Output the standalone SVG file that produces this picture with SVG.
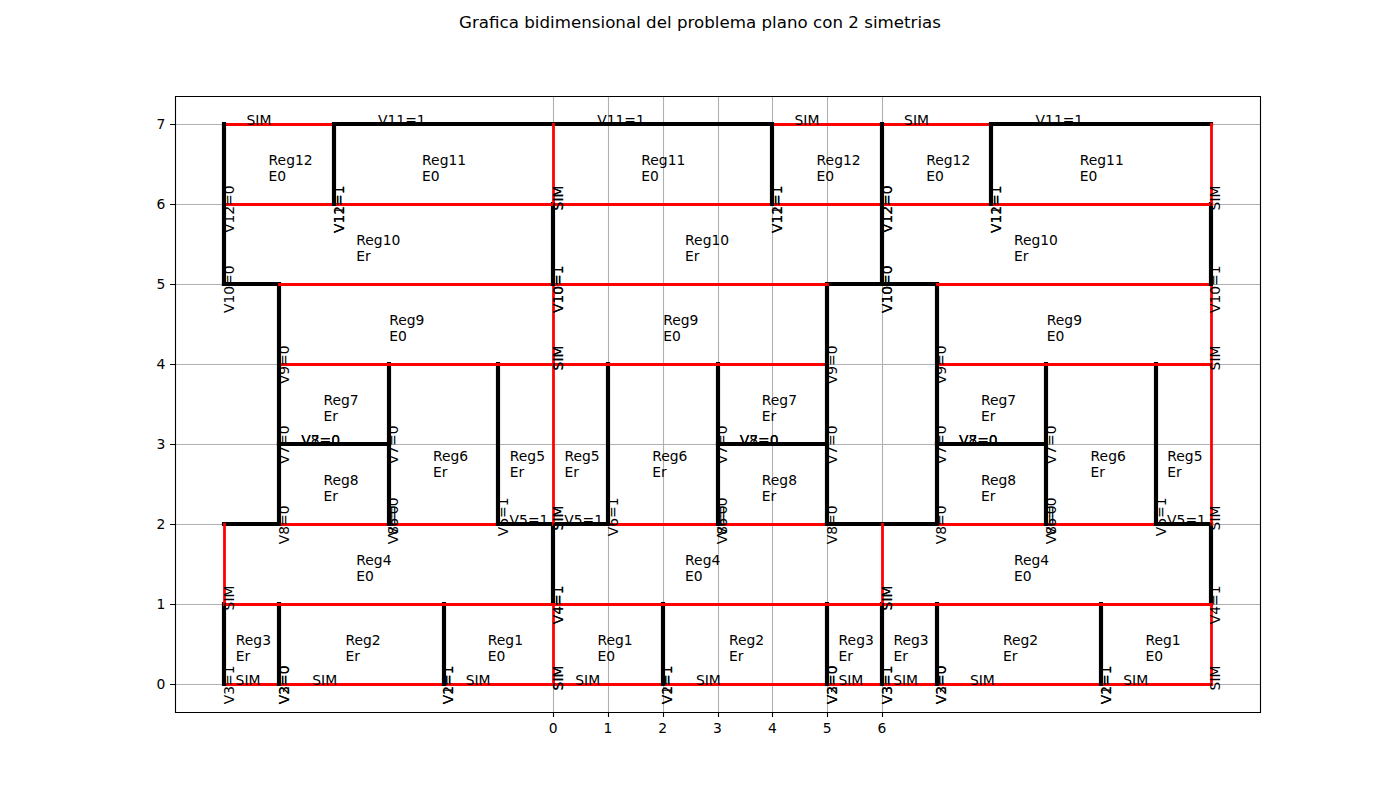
<svg xmlns="http://www.w3.org/2000/svg" width="1400" height="800" viewBox="0 0 1400 800">
<style>
text{font-family:"DejaVu Sans",sans-serif;font-size:13.89px;fill:#000}
.t{font-size:16.67px;text-anchor:middle}
.m{text-anchor:middle}
.e{text-anchor:end}
.l{text-anchor:end}
.g{stroke:#b0b0b0;stroke-width:1.11;fill:none}
.k{stroke:#000;stroke-width:1.11;fill:none}
.b{stroke:#000;stroke-width:4.17;fill:none;stroke-linecap:square;stroke-linejoin:miter}
.r{stroke:#f00;stroke-width:2.78;fill:none;stroke-linecap:square}
</style>
<rect width="1400" height="800" fill="#fff"/>
<text class="t" x="700" y="28" textLength="482" lengthAdjust="spacing">Grafica bidimensional del problema plano con 2 simetrias</text>
<g id="grid">
<path class="g" d="M553.5 96V712M608.5 96V712M663.5 96V712M718.5 96V712M772.5 96V712M827.5 96V712M882.5 96V712"/>
<path class="g" d="M175 124.5H1260M175 204.5H1260M175 284.5H1260M175 364.5H1260M175 444.5H1260M175 524.5H1260M175 604.5H1260M175 684.5H1260"/>
</g>
<g id="connectors">
<!-- regions 1-3 -->
<path class="r" d="M224.5 684.5H1211.5"/>
<path class="r" d="M553.5 684.5V604.5M1211.5 684.5V604.5"/>
<path class="b" d="M224 684V604M279 684V604M444 684V604M663 684V604M827 684V604M882 684V604M937 684V604M1101 684V604"/>
<!-- region 4 -->
<path class="b" d="M224 524H279M827 524H937M498 524H608M1156 524H1211"/>
<path class="b" d="M553 604V524M1211 604V524"/>
<path class="r" d="M224.5 604.5H1211.5M224.5 604.5V524.5M882.5 604.5V524.5"/>
<path class="r" d="M279.5 524.5H498.5M608.5 524.5H827.5M937.5 524.5H1156.5"/>
<!-- regions 5-8 -->
<path class="r" d="M553.5 524.5V284.5M1211.5 524.5V284.5"/>
<path class="b" d="M389 524V364M498 524V364M608 524V364M718 524V364M1046 524V364M1156 524V364"/>
<path class="b" d="M279 444H389M718 444H827M937 444H1046"/>
<!-- region 9 -->
<path class="r" d="M279.5 364.5H827.5M937.5 364.5H1211.5"/>
<path class="b" d="M224 284H279V524M827 524V284H937V524"/>
<!-- region 10 -->
<path class="r" d="M279.5 284.5H827.5M937.5 284.5H1211.5"/>
<path class="b" d="M553 284V204M1211 284V204"/>
<!-- regions 11-12 -->
<path class="r" d="M224.5 204.5H1211.5"/>
<path class="r" d="M224.5 124.5H334.5M772.5 124.5H991.5"/>
<path class="b" d="M334 204V124H772V204M991 204V124H1211"/>
<path class="b" d="M224 284V124M882 284V124"/>
<path class="r" d="M553.5 204.5V124.5M1211.5 204.5V124.5"/>
</g>
<g id="axes">
<path class="k" d="M175.5 96.5H1260.5V712.5H175.5Z"/>
<path class="k" d="M553.5 712v4.9M608.5 712v4.9M663.5 712v4.9M718.5 712v4.9M772.5 712v4.9M827.5 712v4.9M882.5 712v4.9"/>
<path class="k" d="M175 124.5h-4.9M175 204.5h-4.9M175 284.5h-4.9M175 364.5h-4.9M175 444.5h-4.9M175 524.5h-4.9M175 604.5h-4.9M175 684.5h-4.9"/>
<text class="m" x="553.1" y="733">0</text><text class="m" x="607.9" y="733">1</text><text class="m" x="662.7" y="733">2</text><text class="m" x="717.5" y="733">3</text><text class="m" x="772.3" y="733">4</text><text class="m" x="827.1" y="733">5</text><text class="m" x="881.9" y="733">6</text>
<text class="l" x="165.3" y="689">0</text><text class="l" x="165.3" y="609">1</text><text class="l" x="165.3" y="529">2</text><text class="l" x="165.3" y="449">3</text><text class="l" x="165.3" y="369">4</text><text class="l" x="165.3" y="289">5</text><text class="l" x="165.3" y="209">6</text><text class="l" x="165.3" y="129">7</text>
</g>
<g id="regions" transform="translate(0.5,0.7)">
<text x="268.1" y="164">Reg12</text><text x="268.1" y="180.2">E0</text>
<text x="421.6" y="164">Reg11</text><text x="421.6" y="180.2">E0</text>
<text x="640.8" y="164">Reg11</text><text x="640.8" y="180.2">E0</text>
<text x="816.1" y="164">Reg12</text><text x="816.1" y="180.2">E0</text>
<text x="925.7" y="164">Reg12</text><text x="925.7" y="180.2">E0</text>
<text x="1079.2" y="164">Reg11</text><text x="1079.2" y="180.2">E0</text>
<text x="355.8" y="244">Reg10</text><text x="355.8" y="260.2">Er</text>
<text x="684.6" y="244">Reg10</text><text x="684.6" y="260.2">Er</text>
<text x="1013.4" y="244">Reg10</text><text x="1013.4" y="260.2">Er</text>
<text x="388.7" y="324">Reg9</text><text x="388.7" y="340.2">E0</text>
<text x="662.7" y="324">Reg9</text><text x="662.7" y="340.2">E0</text>
<text x="1046.3" y="324">Reg9</text><text x="1046.3" y="340.2">E0</text>
<text x="323" y="404">Reg7</text><text x="323" y="420.2">Er</text>
<text x="761.3" y="404">Reg7</text><text x="761.3" y="420.2">Er</text>
<text x="980.5" y="404">Reg7</text><text x="980.5" y="420.2">Er</text>
<text x="323" y="484">Reg8</text><text x="323" y="500.2">Er</text>
<text x="761.3" y="484">Reg8</text><text x="761.3" y="500.2">Er</text>
<text x="980.5" y="484">Reg8</text><text x="980.5" y="500.2">Er</text>
<text x="432.5" y="460">Reg6</text><text x="432.5" y="476.2">Er</text>
<text x="651.7" y="460">Reg6</text><text x="651.7" y="476.2">Er</text>
<text x="1090.1" y="460">Reg6</text><text x="1090.1" y="476.2">Er</text>
<text x="509.3" y="460">Reg5</text><text x="509.3" y="476.2">Er</text>
<text x="564" y="460">Reg5</text><text x="564" y="476.2">Er</text>
<text x="1166.8" y="460">Reg5</text><text x="1166.8" y="476.2">Er</text>
<text x="355.8" y="564">Reg4</text><text x="355.8" y="580.2">E0</text>
<text x="684.6" y="564">Reg4</text><text x="684.6" y="580.2">E0</text>
<text x="1013.4" y="564">Reg4</text><text x="1013.4" y="580.2">E0</text>
<text x="235.3" y="644">Reg3</text><text x="235.3" y="660.2">Er</text>
<text x="838.1" y="644">Reg3</text><text x="838.1" y="660.2">Er</text>
<text x="892.9" y="644">Reg3</text><text x="892.9" y="660.2">Er</text>
<text x="344.9" y="644">Reg2</text><text x="344.9" y="660.2">Er</text>
<text x="728.5" y="644">Reg2</text><text x="728.5" y="660.2">Er</text>
<text x="1002.4" y="644">Reg2</text><text x="1002.4" y="660.2">Er</text>
<text x="487.3" y="644">Reg1</text><text x="487.3" y="660.2">E0</text>
<text x="596.9" y="644">Reg1</text><text x="596.9" y="660.2">E0</text>
<text x="1144.9" y="644">Reg1</text><text x="1144.9" y="660.2">E0</text>
</g>
<g id="edge-labels-horizontal" transform="translate(0.3,0.5)">
<text x="246.2" y="124">SIM</text><text x="794.2" y="124">SIM</text><text x="903.8" y="124">SIM</text>
<text x="377.7" y="124">V11=1</text><text x="596.9" y="124">V11=1</text><text x="1035.3" y="124">V11=1</text>
<text x="301" y="444">V7=0</text><text x="301" y="444">V8=0</text>
<text x="739.4" y="444">V7=0</text><text x="739.4" y="444">V8=0</text>
<text x="958.6" y="444">V7=0</text><text x="958.6" y="444">V8=0</text>
<text x="509.3" y="524">V5=1</text><text x="564" y="524">V5=1</text><text x="1166.8" y="524">V5=1</text>
<text x="235.3" y="684">SIM</text><text x="312" y="684">SIM</text><text x="465.4" y="684">SIM</text>
<text x="575" y="684">SIM</text><text x="695.6" y="684">SIM</text><text x="838.1" y="684">SIM</text>
<text x="892.9" y="684">SIM</text><text x="969.6" y="684">SIM</text><text x="1123" y="684">SIM</text>
</g>
<g id="edge-labels-vertical" transform="translate(-0.8,-2)">
<text class="e" transform="translate(234.8,667.5) rotate(-90)">V3=1</text>
<text class="e" transform="translate(234.8,587.5) rotate(-90)">SIM</text>
<text class="e" transform="translate(234.8,267.5) rotate(-90)">V10=0</text>
<text class="e" transform="translate(234.8,187.5) rotate(-90)">V12=0</text>
<text class="e" transform="translate(289.6,667.5) rotate(-90)">V3=0</text>
<text class="e" transform="translate(289.6,667.5) rotate(-90)">V2=0</text>
<text class="e" transform="translate(289.6,507.5) rotate(-90)">V8=0</text>
<text class="e" transform="translate(289.6,427.5) rotate(-90)">V7=0</text>
<text class="e" transform="translate(289.6,347.5) rotate(-90)">V9=0</text>
<text class="e" transform="translate(344.4,187.5) rotate(-90)">V11=1</text>
<text class="e" transform="translate(344.4,187.5) rotate(-90)">V12=1</text>
<text class="e" transform="translate(399.2,507.5) rotate(-90)">V8=0</text>
<text class="e" transform="translate(399.2,499.5) rotate(-90)">V6=0</text>
<text class="e" transform="translate(399.2,427.5) rotate(-90)">V7=0</text>
<text class="e" transform="translate(454,667.5) rotate(-90)">V2=1</text>
<text class="e" transform="translate(454,667.5) rotate(-90)">V1=1</text>
<text class="e" transform="translate(508.8,499.5) rotate(-90)">V6=1</text>
<text class="e" transform="translate(563.6,667.5) rotate(-90)">SIM</text>
<text class="e" transform="translate(563.6,587.5) rotate(-90)">V4=1</text>
<text class="e" transform="translate(563.6,507.5) rotate(-90)">SIM</text>
<text class="e" transform="translate(563.6,347.5) rotate(-90)">SIM</text>
<text class="e" transform="translate(563.6,267.5) rotate(-90)">V10=1</text>
<text class="e" transform="translate(563.6,187.5) rotate(-90)">SIM</text>
<text class="e" transform="translate(563.6,667.5) rotate(-90)">SIM</text>
<text class="e" transform="translate(563.6,587.5) rotate(-90)">V4=1</text>
<text class="e" transform="translate(563.6,507.5) rotate(-90)">SIM</text>
<text class="e" transform="translate(563.6,347.5) rotate(-90)">SIM</text>
<text class="e" transform="translate(563.6,267.5) rotate(-90)">V10=1</text>
<text class="e" transform="translate(563.6,187.5) rotate(-90)">SIM</text>
<text class="e" transform="translate(618.4,499.5) rotate(-90)">V6=1</text>
<text class="e" transform="translate(673.2,667.5) rotate(-90)">V1=1</text>
<text class="e" transform="translate(673.2,667.5) rotate(-90)">V2=1</text>
<text class="e" transform="translate(728,507.5) rotate(-90)">V8=0</text>
<text class="e" transform="translate(728,499.5) rotate(-90)">V6=0</text>
<text class="e" transform="translate(728,427.5) rotate(-90)">V7=0</text>
<text class="e" transform="translate(782.8,187.5) rotate(-90)">V11=1</text>
<text class="e" transform="translate(782.8,187.5) rotate(-90)">V12=1</text>
<text class="e" transform="translate(837.6,667.5) rotate(-90)">V2=0</text>
<text class="e" transform="translate(837.6,667.5) rotate(-90)">V3=0</text>
<text class="e" transform="translate(837.6,507.5) rotate(-90)">V8=0</text>
<text class="e" transform="translate(837.6,427.5) rotate(-90)">V7=0</text>
<text class="e" transform="translate(837.6,347.5) rotate(-90)">V9=0</text>
<text class="e" transform="translate(892.4,667.5) rotate(-90)">V3=1</text>
<text class="e" transform="translate(892.4,667.5) rotate(-90)">V3=1</text>
<text class="e" transform="translate(892.4,587.5) rotate(-90)">SIM</text>
<text class="e" transform="translate(892.4,587.5) rotate(-90)">SIM</text>
<text class="e" transform="translate(892.4,267.5) rotate(-90)">V10=0</text>
<text class="e" transform="translate(892.4,267.5) rotate(-90)">V10=0</text>
<text class="e" transform="translate(892.4,187.5) rotate(-90)">V12=0</text>
<text class="e" transform="translate(892.4,187.5) rotate(-90)">V12=0</text>
<text class="e" transform="translate(947.2,667.5) rotate(-90)">V3=0</text>
<text class="e" transform="translate(947.2,667.5) rotate(-90)">V2=0</text>
<text class="e" transform="translate(947.2,507.5) rotate(-90)">V8=0</text>
<text class="e" transform="translate(947.2,427.5) rotate(-90)">V7=0</text>
<text class="e" transform="translate(947.2,347.5) rotate(-90)">V9=0</text>
<text class="e" transform="translate(1002,187.5) rotate(-90)">V11=1</text>
<text class="e" transform="translate(1002,187.5) rotate(-90)">V12=1</text>
<text class="e" transform="translate(1056.8,507.5) rotate(-90)">V8=0</text>
<text class="e" transform="translate(1056.8,499.5) rotate(-90)">V6=0</text>
<text class="e" transform="translate(1056.8,427.5) rotate(-90)">V7=0</text>
<text class="e" transform="translate(1111.6,667.5) rotate(-90)">V2=1</text>
<text class="e" transform="translate(1111.6,667.5) rotate(-90)">V1=1</text>
<text class="e" transform="translate(1166.4,499.5) rotate(-90)">V6=1</text>
<text class="e" transform="translate(1221.2,667.5) rotate(-90)">SIM</text>
<text class="e" transform="translate(1221.2,587.5) rotate(-90)">V4=1</text>
<text class="e" transform="translate(1221.2,507.5) rotate(-90)">SIM</text>
<text class="e" transform="translate(1221.2,347.5) rotate(-90)">SIM</text>
<text class="e" transform="translate(1221.2,267.5) rotate(-90)">V10=1</text>
<text class="e" transform="translate(1221.2,187.5) rotate(-90)">SIM</text>
</g>
</svg>
